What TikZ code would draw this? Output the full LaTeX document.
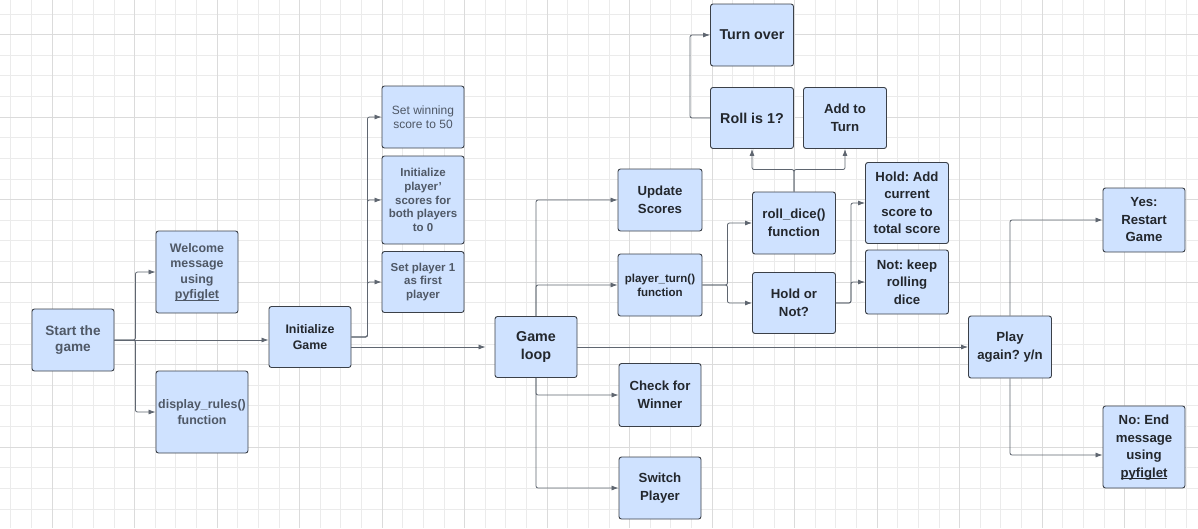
\documentclass[tikz,border=0pt]{standalone}
\usepackage{fontspec}
\setmainfont{Liberation Sans}
\usetikzlibrary{arrows.meta}
\frenchspacing
\definecolor{boxfill}{HTML}{CFE2FF}
\definecolor{boxline}{HTML}{3B4048}
\definecolor{darktext}{HTML}{23272D}
\definecolor{graytext}{HTML}{4F5866}
\definecolor{linkgray}{HTML}{5F6670}
\definecolor{minorgrid}{HTML}{EBEBEB}
\definecolor{majorgrid}{HTML}{DBDBDB}
\begin{document}
\begin{tikzpicture}[x=1pt,y=-1pt,
  box/.style={draw=boxline,fill=boxfill,rounded corners=2.5pt,line width=0.9pt,align=center,inner sep=0pt,
    minimum width=82pt,minimum height=62pt,text=darktext,font=\bfseries\fontsize{13.2}{17.5}\selectfont},
  grey/.style={text=graytext},
  txtS/.style={font=\bfseries\fontsize{11.5}{13.8}\selectfont},
  txtM/.style={font=\bfseries\fontsize{12.4}{15.2}\selectfont},
  txtL/.style={font=\bfseries\fontsize{14.3}{17.5}\selectfont},
  link/.style={draw=linkgray,line width=0.8pt,rounded corners=2pt,-{Latex[length=7pt,width=5pt]}}]
\fill[white] (0,0) rectangle (1198,528);
\useasboundingbox (0,0) rectangle (1198,528);
% background grid
\foreach \i in {0,...,57} \draw[minorgrid,line width=0.7pt] ({10.75+20.625*\i},0) -- ++(0,528);
\foreach \j in {0,...,24} \draw[minorgrid,line width=0.7pt] (0,{13.875+20.625*\j}) -- ++(1198,0);
\foreach \i in {0,...,13} \draw[majorgrid,line width=0.8pt] ({52+82.5*\i},0) -- ++(0,528);
\foreach \j in {0,...,5} \draw[majorgrid,line width=0.8pt] (0,{34.5+82.5*\j}) -- ++(1198,0);

% setup
\node (S) at (73,340) [box,grey,font=\bfseries\fontsize{13.6}{16.5}\selectfont]{Start the\\game};
\node (W) at (197,272) [box,grey,txtM,minimum height=82pt]{Welcome\\message\\using\\\underline{\smash{pyfiglet}}};
\node (R) at (202,412) [box,grey,txtM,minimum width=92pt,minimum height=82pt]{display\_rules()\\function};
\node (I) at (310,337) [box,txtM,minimum height=61pt]{Initialize\\Game};
\node (WS) at (423,117) [box,grey,font=\fontsize{12}{14.5}\selectfont]{Set winning\\score to 50};
\node (IP) at (423,200) [box,grey,txtS,minimum height=88pt]{Initialize\\player'\\scores for\\both players\\to 0};
\node (SP) at (423,282) [box,grey,txtS,minimum height=61pt]{Set player 1\\as first\\player};

% game loop
\node (G) at (536,347) [box,txtL,minimum height=61pt]{Game\\loop};
\node (U) at (660,200) [box,minimum width=84pt]{Update\\Scores};
\node (P) at (660,285) [box,txtS,minimum width=84pt]{player\_turn()\\function};
\node (C) at (660,395) [box,minimum height=63pt]{Check for\\Winner};
\node (SW) at (660,488) [box]{Switch\\Player};

% player turn
\node (T) at (752,35) [box,txtL,minimum width=83pt]{Turn over};
\node (O) at (752,118) [box,txtL,minimum width=83pt,minimum height=61pt]{Roll is 1?};
\node (A) at (845,118) [box,minimum width=83pt,minimum height=61pt]{Add to\\Turn};
\node (D) at (794,223) [box,minimum width=83pt]{roll\_dice()\\function};
\node (H) at (794,303) [box,minimum width=83pt,minimum height=61pt]{Hold or\\Not?};
\node (HA) at (907,203) [box,minimum width=83pt,minimum height=81pt]{Hold: Add\\current\\score to\\total score};
\node (NK) at (907,282) [box,minimum width=83pt,minimum height=64pt]{Not: keep\\rolling\\dice};

% end of game
\node (PA) at (1010,347) [box,minimum width=83pt]{Play\\again? y/n};
\node (Y) at (1144,220) [box,minimum height=64pt]{Yes:\\Restart\\Game};
\node (N) at (1144,447) [box,minimum height=82pt]{No: End\\message\\using\\\underline{\smash{pyfiglet}}};

\draw[link] (S.east) -- ++(21,0) |- (W.west);
\draw[link] (S.east) -- ++(21,0) |- (R.west);
\draw[link] (S.east) -- (S.east -| I.west);

\draw[link] (I.east) -- ++(16,0) |- (WS.west);
\draw[link] (I.east) -- ++(16,0) |- (IP.west);
\draw[link] (I.east) -- ++(16,0) |- (SP.west);
\draw[link,shorten >=9pt] (G.west -| I.east) -- (G.west);

\draw[link] (G.north) |- (U.west);
\draw[link] (G.north) |- (P.west);
\draw[link] (G.south) |- (C.west);
\draw[link] (G.south) |- (SW.west);
\draw[link] (G.east) -- (PA.west);

\draw[link] (P.east) -- ++(25,0) |- (D.west);
\draw[link] (P.east) -- ++(25,0) |- (H.west);
\draw[link] (D.north) -- ++(0,-22) -| (O.south);
\draw[link] (D.north) -- ++(0,-22) -| (A.south);
\draw[link] (O.west) -- ++(-20,0) |- (T.west);
\draw[link] (H.east) -- ++(15,0) |- (HA.west);
\draw[link] (H.east) -- ++(15,0) |- (NK.west);

\draw[link] (PA.north) |- (Y.west);
\draw[link] (PA.south) |- ([yshift=-8pt]N.west);
\end{tikzpicture}
\end{document}
